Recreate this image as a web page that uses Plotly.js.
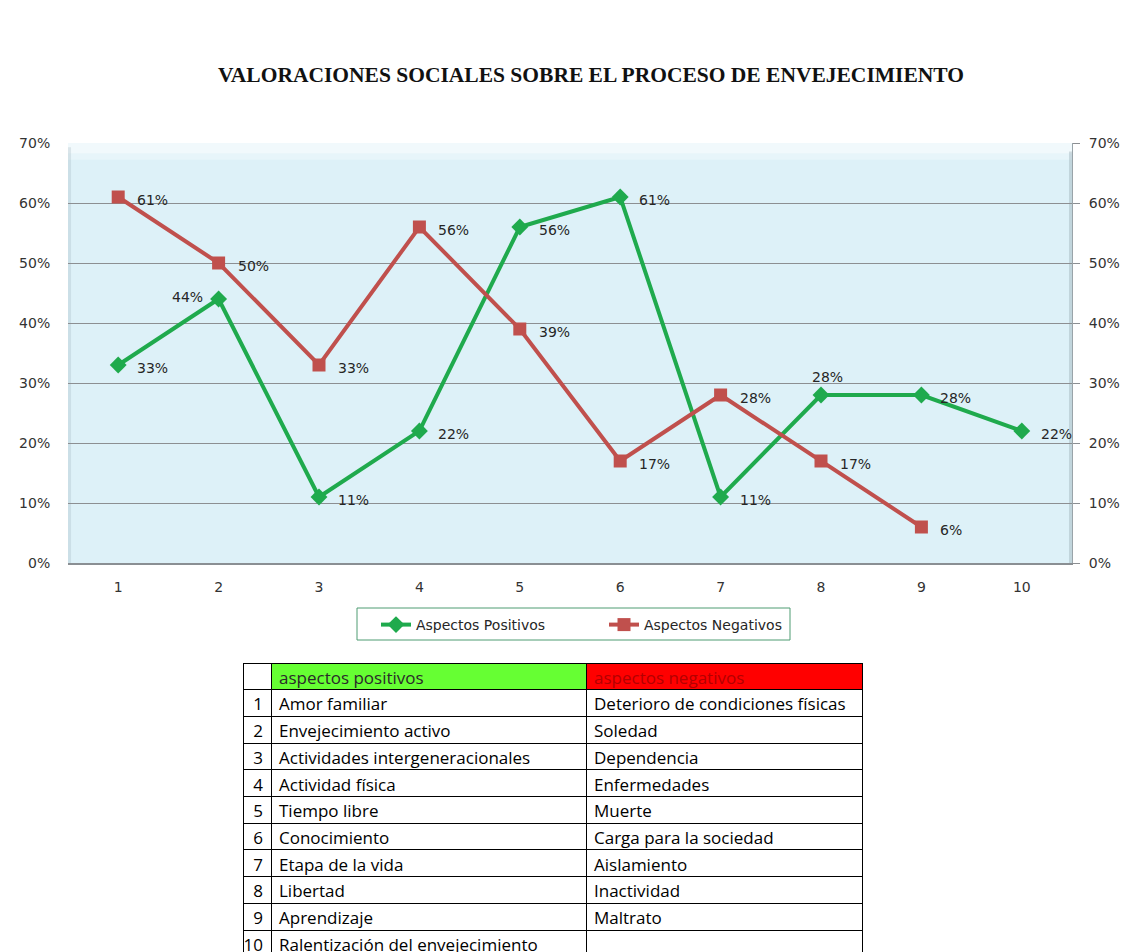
<!DOCTYPE html>
<html>
<head>
<meta charset="utf-8">
<script src="https://cdn.plot.ly/plotly-3.0.1.min.js"></script>
<style>
html,body{margin:0;padding:0;overflow:hidden;background:#fff;}
#chart{width:1127px;height:980px;}
</style>
</head>
<body>
<div id="chart"></div>
<script>
// ---- data ----
const categories = [1, 2, 3, 4, 5, 6, 7, 8, 9, 10];
const aspectosPositivos = [33, 44, 11, 22, 56, 61, 11, 28, 28, 22];
const aspectosNegativos = [61, 50, 33, 56, 39, 17, 28, 17, 6, null];
const yTicks = [0, 10, 20, 30, 40, 50, 60, 70];
const yTickLabels = ['0%', '10%', '20%', '30%', '40%', '50%', '60%', '70%'];
const seriesNames = ['Aspectos Positivos', 'Aspectos Negativos'];
const chartTitle = 'VALORACIONES SOCIALES SOBRE EL PROCESO DE ENVEJECIMIENTO';

const tableHeader = ['', 'aspectos positivos', 'aspectos negativos'];
const rowNumbers = ['1','2','3','4','5','6','7','8','9','10'];
const listaPositivos = ['Amor familiar','Envejecimiento activo','Actividades intergeneracionales','Actividad física','Tiempo libre','Conocimiento','Etapa de la vida','Libertad','Aprendizaje','Ralentización del envejecimiento'];
const listaNegativos = ['Deterioro de condiciones físicas','Soledad','Dependencia','Enfermedades','Muerte','Carga para la sociedad','Aislamiento','Inactividad','Maltrato',''];

// ---- layout geometry ----
const W = 1127, H = 980;
const px = v => v / W;
const py = v => 1 - v / H;
const GREEN = '#1faa4d', RED = '#c0504d';
const FONT = 'DejaVu Sans, Verdana, sans-serif';
const TFONT = 'Open Sans, Calibri, sans-serif';
const FS = 14;

// label placement exceptions for positive series
const posLabelSide = {2: 'left', 8: 'top'};

const annotations = [];
function addLabels(vals, yref, sideMap) {
  vals.forEach((v, i) => {
    if (v === null) return;
    const side = (sideMap && sideMap[categories[i]]) || 'right';
    const a = {x: categories[i], y: v, xref: 'x', yref: yref, text: v + '%', showarrow: false,
      font: {family: FONT, size: FS, color: '#262626'}};
    if (side === 'right') { a.xanchor = 'left'; a.xshift = 17; a.yshift = -3; }
    else if (side === 'left') { a.xanchor = 'right'; a.xshift = -14; a.yshift = 2; }
    else { a.xanchor = 'center'; a.yanchor = 'bottom'; a.xshift = 6; a.yshift = 8; }
    annotations.push(a);
  });
}
addLabels(aspectosPositivos, 'y', posLabelSide);
addLabels(aspectosNegativos, 'y2', null);

const traces = [
  {type: 'scatter', mode: 'lines+markers', name: seriesNames[0], x: categories, y: aspectosPositivos,
   line: {color: GREEN, width: 4}, marker: {symbol: 'diamond', size: 13, color: GREEN},
   xaxis: 'x', yaxis: 'y', hoverinfo: 'skip'},
  {type: 'scatter', mode: 'lines+markers', name: seriesNames[1], x: categories, y: aspectosNegativos,
   line: {color: RED, width: 4}, marker: {symbol: 'square', size: 13, color: RED},
   xaxis: 'x', yaxis: 'y2', hoverinfo: 'skip'},
  {type: 'table', domain: {x: [px(243), px(862)], y: [0, py(663)]},
   columnwidth: [28, 315, 276],
   header: {values: tableHeader, height: 26.7, align: ['right', 'left', 'left'],
     fill: {color: ['#ffffff', '#66ff33', '#ff0000']},
     line: {color: '#000000', width: 1},
     font: {family: TFONT, size: 17, color: ['#000000', '#2a2a2a', '#b30000']}},
   cells: {values: [rowNumbers, listaPositivos, listaNegativos], height: 26.7, align: ['right', 'left', 'left'],
     fill: {color: '#ffffff'}, line: {color: '#000000', width: 1},
     font: {family: TFONT, size: 17, color: '#000000'}}}
];

const shapes = [
  // top highlight band (bevel)
  {type: 'rect', xref: 'x domain', yref: 'y domain', x0: 0, x1: 1, y0: 0.975, y1: 1,
   fillcolor: 'rgba(255,255,255,0.6)', line: {width: 0}, layer: 'below'},
  {type: 'rect', xref: 'x domain', yref: 'y domain', x0: 0, x1: 1, y0: 0.96, y1: 0.975,
   fillcolor: 'rgba(255,255,255,0.3)', line: {width: 0}, layer: 'below'},
  // left soft shade
  {type: 'rect', xref: 'x domain', yref: 'y domain', x0: 0, x1: 0.003, y0: 0, y1: 0.99,
   fillcolor: 'rgba(150,170,180,0.25)', line: {width: 0}, layer: 'below'},
  // right edge shade
  {type: 'rect', xref: 'x domain', yref: 'y domain', x0: 0.997, x1: 1, y0: 0, y1: 0.98,
   fillcolor: 'rgba(140,160,170,0.35)', line: {width: 0}, layer: 'below'},
  // legend frame
  {type: 'rect', xref: 'paper', yref: 'paper', x0: px(357), x1: px(790), y0: py(640), y1: py(608),
   fillcolor: 'rgba(0,0,0,0)', line: {color: '#4f9c72', width: 1}, layer: 'above'}
];

const layout = {
  width: W, height: H,
  margin: {l: 0, r: 0, t: 0, b: 0},
  paper_bgcolor: '#ffffff',
  plot_bgcolor: '#ddf1f8',
  showlegend: true,
  title: {text: chartTitle, x: px(591), xanchor: 'center', y: py(74), yanchor: 'middle',
          font: {family: 'Liberation Serif, Times New Roman, serif', size: 21.5, color: '#111111', weight: 'bold'}},
  xaxis: {domain: [px(68), px(1072)], range: [0.5, 10.5], tickvals: categories, ticktext: categories.map(String),
          showgrid: false, zeroline: false, showline: true, linecolor: '#8a8f93', linewidth: 2,
          ticks: 'outside', ticklen: 10, tickcolor: 'rgba(0,0,0,0)',
          tickfont: {family: FONT, size: FS, color: '#333333'}, fixedrange: true},
  yaxis: {domain: [py(563), py(143)], range: [0, 70], tickvals: yTicks, ticktext: yTickLabels,
          showgrid: true, gridcolor: '#8c8f92', gridwidth: 1, zeroline: false, showline: false,
          ticks: 'outside', ticklen: 14, tickcolor: 'rgba(0,0,0,0)',
          tickfont: {family: FONT, size: FS, color: '#333333'}, fixedrange: true},
  yaxis2: {overlaying: 'y', side: 'right', range: [0, 70], tickvals: yTicks, ticktext: yTickLabels,
           showgrid: false, zeroline: false, showline: true, linecolor: '#9aa4a9', linewidth: 1,
           ticks: 'outside', ticklen: 7, tickcolor: '#8c8f92', ticklabelstandoff: 6,
           tickfont: {family: FONT, size: FS, color: '#333333'}, fixedrange: true},
  legend: {orientation: 'h', x: px(376), xanchor: 'left', y: py(609), yanchor: 'top',
           borderwidth: 0, bgcolor: 'rgba(0,0,0,0)', entrywidth: 183, entrywidthmode: 'pixels',
           font: {family: FONT, size: FS, color: '#262626'}, itemwidth: 30, tracegroupgap: 0},
  annotations: annotations,
  shapes: shapes
};

Plotly.newPlot('chart', traces, layout, {staticPlot: true, displayModeBar: false});
</script>
</body>
</html>
